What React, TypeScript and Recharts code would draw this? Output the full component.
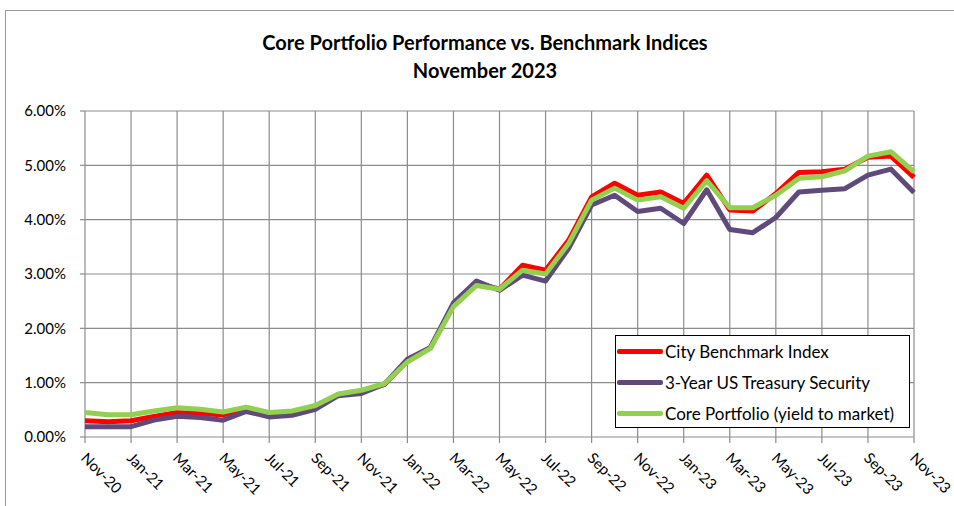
import { LineChart, Line, XAxis, YAxis, CartesianGrid, Legend } from "recharts";

const months: string[] = [
  "Nov-20", "Dec-20", "Jan-21", "Feb-21", "Mar-21", "Apr-21", "May-21", "Jun-21",
  "Jul-21", "Aug-21", "Sep-21", "Oct-21", "Nov-21", "Dec-21", "Jan-22", "Feb-22",
  "Mar-22", "Apr-22", "May-22", "Jun-22", "Jul-22", "Aug-22", "Sep-22", "Oct-22",
  "Nov-22", "Dec-22", "Jan-23", "Feb-23", "Mar-23", "Apr-23", "May-23", "Jun-23",
  "Jul-23", "Aug-23", "Sep-23", "Oct-23", "Nov-23",
];

// yields in percent
const cityBenchmark: number[] = [
  0.30, 0.28, 0.30, 0.38, 0.45, 0.43, 0.41, 0.49, 0.42, 0.46, 0.56, 0.78, 0.84,
  0.97, 1.40, 1.64, 2.43, 2.83, 2.72, 3.16, 3.07, 3.62, 4.42, 4.67, 4.45, 4.51,
  4.30, 4.82, 4.18, 4.16, 4.48, 4.87, 4.88, 4.93, 5.15, 5.17, 4.78,
];

const treasury3Yr: number[] = [
  0.19, 0.19, 0.19, 0.31, 0.38, 0.36, 0.31, 0.47, 0.37, 0.40, 0.51, 0.76, 0.80,
  0.97, 1.43, 1.65, 2.47, 2.87, 2.70, 2.98, 2.87, 3.47, 4.27, 4.45, 4.15, 4.21,
  3.93, 4.55, 3.82, 3.76, 4.04, 4.51, 4.54, 4.57, 4.82, 4.93, 4.50,
];

const corePortfolio: number[] = [
  0.45, 0.41, 0.41, 0.48, 0.54, 0.51, 0.46, 0.55, 0.45, 0.48, 0.58, 0.79, 0.86,
  0.98, 1.38, 1.63, 2.40, 2.79, 2.72, 3.07, 3.00, 3.56, 4.36, 4.58, 4.36, 4.42,
  4.21, 4.72, 4.22, 4.22, 4.45, 4.76, 4.79, 4.90, 5.17, 5.25, 4.88,
];

const yTicks: number[] = [0, 1, 2, 3, 4, 5, 6];

const series = [
  { key: "city", name: "City Benchmark Index", color: "#ff0000" },
  { key: "treasury", name: "3-Year US Treasury Security", color: "#604a7b" },
  { key: "core", name: "Core Portfolio (yield to market)", color: "#92d050" },
];

const data = months.map((m, i) => ({
  month: m,
  city: cityBenchmark[i],
  treasury: treasury3Yr[i],
  core: corePortfolio[i],
}));

const FONT = "Lato, 'Liberation Sans', sans-serif";

const XTick = ({ x, y, payload }: any) => {
  const ox = x - 5;
  const oy = y + 14;
  return (
    <text
      x={ox}
      y={oy}
      transform={`rotate(45, ${ox}, ${oy})`}
      fontSize={15}
      fontFamily={FONT}
      fill="#000"
    >
      {payload.value}
    </text>
  );
};

const LegendBox = () => (
  <div
    style={{
      border: "1.5px solid #000",
      background: "#fff",
      width: 295,
      height: 93,
      boxSizing: "border-box",
      padding: "0 0 0 1px",
      fontFamily: FONT,
      fontSize: 17,
      color: "#000",
    }}
  >
    {series.map((s) => (
      <div key={s.key} style={{ display: "flex", alignItems: "center", height: 31 }}>
        <div style={{ width: 46, height: 5, background: s.color, borderRadius: 2, marginRight: 2 }} />
        <span>{s.name}</span>
      </div>
    ))}
  </div>
);

export default function App() {
  return (
    <div style={{ position: "absolute", left: 0, top: 0, width: 954, height: 506, overflow: "hidden", background: "#fff" }}>
      <div
        style={{
          position: "absolute",
          left: 5,
          top: 10,
          width: 1100,
          height: 700,
          border: "1px solid #9a9a9a",
        }}
      />
      <div
        style={{
          position: "absolute",
          left: 0,
          width: 970,
          top: 28,
          textAlign: "center",
          fontFamily: FONT,
          fontWeight: "bold",
          fontSize: 20,
          lineHeight: "28px",
          color: "#000",
        }}
      >
        <div>Core Portfolio Performance vs. Benchmark Indices</div>
        <div>November 2023</div>
      </div>
      <div style={{ position: "absolute", left: 0, top: 0 }}>
        <LineChart
          width={954}
          height={506}
          data={data}
          margin={{ top: 111, right: 40, bottom: 0, left: 0 }}
        >
          <CartesianGrid stroke="#8c8c8c" strokeWidth={1.2} />
          <XAxis
            dataKey="month"
            interval={1}
            height={69}
            axisLine={false}
            tickLine={{ stroke: "#8c8c8c", strokeWidth: 1.2 }}
            tickSize={6}
            tick={<XTick />}
          />
          <YAxis
            domain={[0, 6]}
            ticks={yTicks}
            width={85}
            axisLine={false}
            tickLine={{ stroke: "#8c8c8c", strokeWidth: 1.2 }}
            tickSize={5}
            tickMargin={14}
            tickFormatter={(v: number) => `${v.toFixed(2)}%`}
            tick={{ fill: "#000", fontSize: 15, fontFamily: FONT }}
          />
          <Legend
            layout="vertical"
            align="center"
            verticalAlign="middle"
            content={<LegendBox />}
            wrapperStyle={{ position: "absolute", left: 615, top: 335, width: 295, height: 93 }}
          />
          {series.map((s) => (
            <Line
              key={s.key}
              type="linear"
              dataKey={s.key}
              name={s.name}
              stroke={s.color}
              strokeWidth={5}
              strokeLinejoin="round"
              dot={false}
              activeDot={false}
              isAnimationActive={false}
            />
          ))}
        </LineChart>
      </div>
    </div>
  );
}
